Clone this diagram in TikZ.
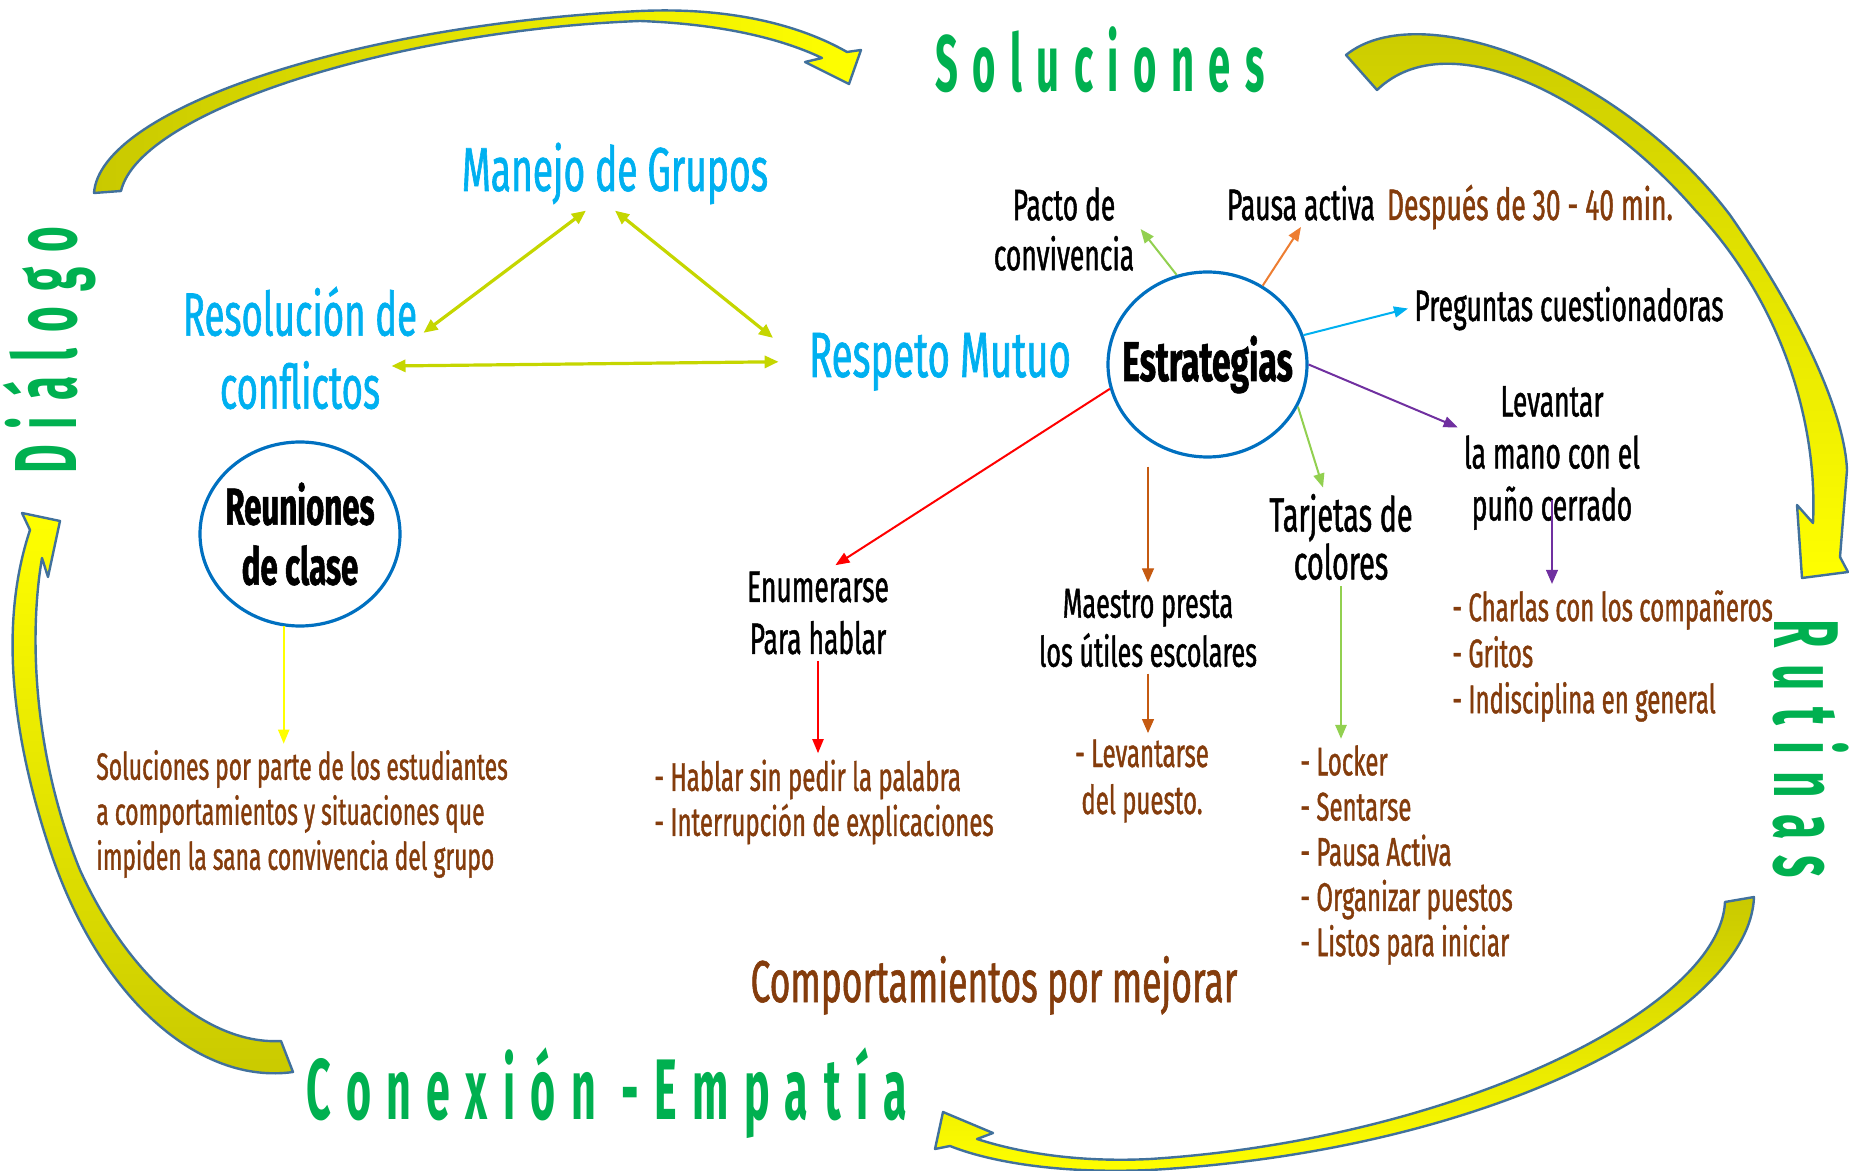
\documentclass[tikz,border=0pt]{standalone}
\usepackage{fontspec}
\newfontfamily\hand[FakeStretch=0.6,FakeBold=1]{Fira Sans}
\newfontfamily\marker[FakeStretch=0.5,LetterSpace=18]{Fira Sans}
\newcommand{\fs}[2]{\fontsize{#1}{#2}\selectfont}
\usetikzlibrary{shapes.geometric,arrows.meta}

\definecolor{verde}{HTML}{00B050}
\definecolor{celeste}{HTML}{00B0F0}
\definecolor{cafe}{HTML}{843C0C}
\definecolor{azul}{HTML}{0070C0}
\definecolor{lima}{HTML}{C5D600}
\definecolor{verdeclaro}{HTML}{92D050}
\definecolor{naranja}{HTML}{ED7D31}
\definecolor{naranjaosc}{HTML}{C55A11}
\definecolor{morado}{HTML}{7030A0}
\definecolor{rojo}{HTML}{FF0000}
\definecolor{amarillo}{HTML}{FFFF00}
\definecolor{oliva}{HTML}{C9C900}
\definecolor{borde}{HTML}{41719C}

\tikzstyle{texto}=[inner sep=3pt, align=center]
\tikzstyle{titulo}=[texto, text=verde]
\tikzstyle{flecha}=[-{Triangle[length=7pt,width=5.5pt]}, line width=1pt]
\tikzstyle{flechita}=[-{Triangle[length=7pt,width=6pt]}, line width=0.6pt]
\tikzstyle{doble}=[{Triangle[length=7pt,width=6pt]}-{Triangle[length=7pt,width=6pt]}, lima, line width=1.6pt]
\tikzstyle{grande}=[draw=borde, line width=1.2pt, line join=round]
\tikzstyle{burbuja}=[ellipse, draw=azul, line width=1.6pt]

\begin{document}
\begin{tikzpicture}[x=0.5pt, y=-0.5pt]
	\useasboundingbox (0,0) rectangle (1849,1171);
	%big arrows
	\draw[grande, left color=oliva, right color=amarillo] (94,193)
	.. controls (100,110) and (350,25) .. (640,11)
	.. controls (730,7) and (800,25) .. (847,52)
	-- (861,50) -- (849,84) -- (805,62) -- (822,58)
	.. controls (780,38) and (720,24) .. (640,21)
	.. controls (400,30) and (140,110) .. (121,191) -- cycle;
	\draw[grande, top color=oliva, bottom color=amarillo] (1346,55)
	.. controls (1420,-5) and (1620,70) .. (1730,215)
	.. controls (1810,330) and (1845,420) .. (1847,470)
	-- (1840,557) -- (1848,572) -- (1802,578) -- (1797,505) -- (1813,523)
	.. controls (1818,420) and (1780,300) .. (1695,210)
	.. controls (1600,100) and (1450,20) .. (1377,90) -- cycle;
	\draw[grande, top color=oliva, bottom color=amarillo] (1754,897)
	.. controls (1750,1010) and (1500,1150) .. (1150,1170)
	.. controls (1060,1174) and (990,1162) .. (950,1146)
	-- (935,1149) -- (943,1112) -- (993,1133) -- (977,1139)
	.. controls (1030,1156) and (1090,1162) .. (1150,1159)
	.. controls (1450,1140) and (1720,1010) .. (1725,902) -- cycle;
	\draw[grande, top color=amarillo, bottom color=oliva] (30,530)
	-- (22,513) -- (60,521) -- (48,577) -- (42,558)
	.. controls (28,640) and (35,760) .. (80,870)
	.. controls (130,980) and (210,1045) .. (281,1041)
	-- (293,1072)
	.. controls (200,1085) and (100,1000) .. (50,850)
	.. controls (10,730) and (0,620) .. (30,530) -- cycle;
	%titles
	\node[titulo, anchor=base, font=\marker\bfseries\fs{40}{40}] (sol) at (1100,92) {Soluciones};
	\node[titulo, anchor=base, font=\marker\bfseries\fs{43}{43}] (conex) at (607,1119) {Conexión -Empatía};
	\node[titulo, anchor=base, rotate=90, font=\marker\bfseries\fs{44}{44}] (dial) at (76,350) {Diálogo};
	\node[titulo, anchor=base, rotate=-90, font=\marker\bfseries\fs{46}{46}] (rut) at (1774,749) {Rutinas};
	%grupos
	\node[texto, text=celeste, anchor=base, font=\hand\fs{31}{34}] (manejo) at (615,191) {Manejo de Grupos};
	\node[texto, text=celeste, font=\hand\fs{30.5}{36.5}] (resol) at (300,348) {Resolución de\\conflictos};
	\node[texto, text=celeste, anchor=base, font=\hand\fs{32}{36}] (resp) at (940,377) {Respeto Mutuo};
	\node[burbuja, minimum width=100pt, minimum height=92pt,
	label={[texto, font=\hand\bfseries\fs{26}{30}]center:{Reuniones\\de clase}}] (reun) at (300,534) {};
	\node[texto, text=cafe, anchor=west, align=left, font=\hand\fs{19}{22.5}] (solest) at (90,814)
	{Soluciones por parte de los estudiantes\\a comportamientos y situaciones que\\impiden la sana convivencia del grupo};
	%estrategias
	\node[burbuja, minimum width=99.5pt, minimum height=92.5pt,
	label={[texto, font=\hand\bfseries\fs{28}{30}]center:Estrategias}] (estr) at (1207.5,364.5) {};
	\node[texto, font=\hand\fs{22}{25}] (pacto) at (1064,229) {Pacto de\\convivencia};
	\node[texto, anchor=base, font=\hand\fs{22}{25}] (pausa) at (1301,220) {Pausa activa};
	\node[texto, text=cafe, anchor=base, font=\hand\fs{22}{25}] (desp) at (1530,220) {Después de 30 - 40 min.};
	\node[texto, anchor=base, font=\hand\fs{22}{25}] (preg) at (1569,321) {Preguntas cuestionadoras};
	\node[texto, font=\hand\fs{22}{26}] (lev) at (1552,458) {Levantar\\la mano con el\\puño cerrado};
	\node[texto, font=\hand\fs{24}{24}] (tarj) at (1341,537) {Tarjetas de\\colores};
	\node[texto, font=\hand\fs{21}{24.5}] (maestro) at (1148,628) {Maestro presta\\los útiles escolares};
	\node[texto, font=\hand\fs{22}{26}] (enum) at (818,613) {Enumerarse\\Para hablar};
	%comportamientos
	\node[texto, text=cafe, anchor=west, align=left, font=\hand\fs{20}{23}] (charl) at (1446,656)
	{- Charlas con los compañeros\\- Gritos\\- Indisciplina en general};
	\node[texto, text=cafe, anchor=west, align=left, font=\hand\fs{20}{22.6}] (lock) at (1294,855)
	{- Locker\\- Sentarse\\- Pausa Activa\\- Organizar puestos\\- Listos para iniciar};
	\node[texto, text=cafe, font=\hand\fs{20}{23.5}] (levs) at (1142,781) {- Levantarse\\del puesto.};
	\node[texto, text=cafe, anchor=west, align=left, font=\hand\fs{20}{22.5}] (hab) at (648,802)
	{- Hablar sin pedir la palabra\\- Interrupción de explicaciones};
	\node[texto, text=cafe, anchor=base, font=\hand\fs{29.5}{30}] (comp) at (994,1002) {Comportamientos por mejorar};
	%triangle
	\draw[doble] (resol.7) -- (manejo.232);
	\draw[doble, shorten >=19pt] (manejo.south) -- (resp.west);
	\draw[doble] ([xshift=-16pt,yshift=-9pt]resol.east) -- ([xshift=-12pt]resp.west);
	%arrows
	\draw[flecha, amarillo] (reun.260) -- (reun.260 |- solest.north);
	\draw[flecha, verdeclaro] (estr.109) -- (pacto.east);
	\draw[flecha, naranja] (estr.55) -- (pausa.south);
	\draw[flecha, celeste] (estr.17) -- (preg.west);
	\draw[flecha, morado] (estr.0) -- (lev.162);
	\draw[flecha, verdeclaro] (estr.-25) -- (tarj.110);
	\draw[flechita, naranjaosc] ([yshift=-4pt]maestro.north |- estr.south) -- (maestro.north);
	\draw[flecha, rojo] (estr.194) -- (enum.70);
	\draw[flechita, morado] ([yshift=18pt]lev.south) -- (lev.south |- charl.north);
	\draw[flecha, verdeclaro, line width=1.3pt] (tarj.south) -- (tarj.south |- lock.north);
	\draw[flechita, naranjaosc] (maestro.south) -- (maestro.south |- levs.north);
	\draw[flecha, rojo] (enum.south) -- (enum.south |- hab.north);
\end{tikzpicture}
\end{document}
